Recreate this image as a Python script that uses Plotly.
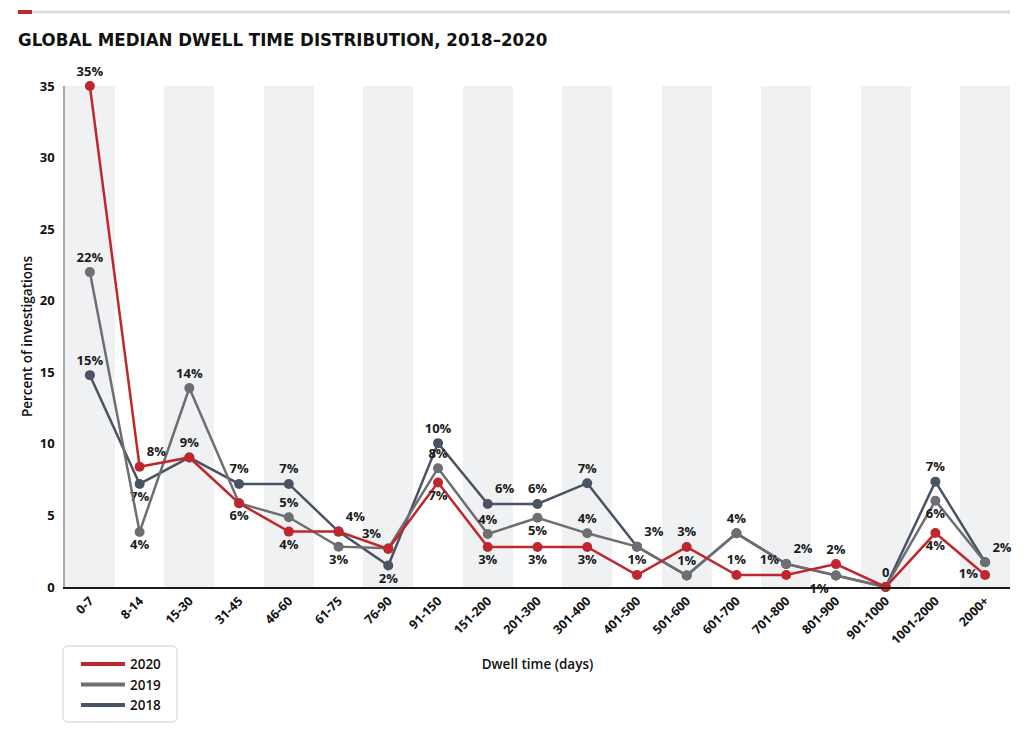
import plotly.graph_objects as go

categories = ["0-7", "8-14", "15-30", "31-45", "46-60", "61-75", "76-90", "91-150",
              "151-200", "201-300", "301-400", "401-500", "501-600", "601-700",
              "701-800", "801-900", "901-1000", "1001-2000", "2000+"]

v2020 = [35, 8.4, 9.05, 5.85, 3.87, 3.87, 2.66, 7.3, 2.8, 2.8, 2.8, 0.84, 2.8, 0.84, 0.84, 1.6, 0, 3.77, 0.84]
v2019 = [22, 3.84, 13.9, 5.85, 4.87, 2.82, 2.7, 8.3, 3.7, 4.84, 3.75, 2.82, 0.8, 3.75, 1.61, 0.8, 0, 6.03, 1.73]
v2018 = [14.8, 7.2, 9.05, 7.2, 7.2, 3.87, 1.5, 10.05, 5.8, 5.8, 7.25, 2.82, 0.8, 3.75, 1.61, 0.8, 0, 7.36, 1.73]

lab2020 = ["35%", "8%", "9%", "6%", "4%", "4%", "3%", "7%", "3%", "3%", "3%", "1%", "3%", "1%", "1%", "2%", "0", "4%", "1%"]
lab2019 = ["22%", "4%", "14%", "", "5%", "3%", "", "8%", "4%", "5%", "4%", "", "1%", "4%", "2%", "1%", "", "6%", "2%"]
lab2018 = ["15%", "7%", "", "7%", "7%", "", "2%", "10%", "6%", "6%", "7%", "3%", "", "", "", "", "", "7%", ""]

pos2020 = ["top center", "top right", "top center", "bottom center", "bottom center", "top right",
           "top left", "bottom center", "bottom center", "bottom center", "bottom center", "top center",
           "top center", "top center", "top left", "top center", "top center", "bottom center", "middle left"]
pos2019 = ["top center", "bottom center", "top center", "top center", "top center", "bottom center",
           "top center", "top center", "top center", "bottom center", "top center", "top center",
           "top center", "top center", "top right", "bottom left", "top center", "bottom center", "top right"]
pos2018 = ["top center", "bottom center", "top center", "top center", "top center", "top center",
           "bottom center", "top center", "top right", "top center", "top center", "top right",
           "top center", "top center", "top center", "top center", "top center", "top center", "top center"]

Y_MAX = 35
band_vals = [Y_MAX if i % 2 == 0 else None for i in range(len(categories))]

RED = "#c0272d"
GRAY19 = "#6d6e72"
DARK18 = "#4a5361"
FONT = "Open Sans"

fig = go.Figure()

fig.add_trace(go.Bar(x=categories, y=band_vals, width=1, marker=dict(color="#f0f1f3", line=dict(width=0)),
                     showlegend=False, hoverinfo="skip"))

lab_font = dict(family=FONT, size=13, color="#1a1a1a", weight=700)

series = [("2018", v2018, lab2018, pos2018, DARK18),
          ("2019", v2019, lab2019, pos2019, GRAY19),
          ("2020", v2020, lab2020, pos2020, RED)]

for name, vals, labs, pos, col in series:
    fig.add_trace(go.Scatter(x=categories, y=vals, name=name, mode="lines+markers+text",
                             line=dict(color=col, width=2.5),
                             marker=dict(color=col, size=10),
                             text=labs, textposition=pos, textfont=lab_font,
                             cliponaxis=False, showlegend=False))

# legend entries (line only, as in the reference legend)
for name, vals, labs, pos, col in series:
    fig.add_trace(go.Scatter(x=[None], y=[None], name=name, mode="lines",
                             line=dict(color=col, width=4), showlegend=True, hoverinfo="skip"))

fig.update_layout(
    width=1016, height=724,
    margin=dict(l=57, r=14, t=78, b=145, autoexpand=False),
    paper_bgcolor="white", plot_bgcolor="white",
    bargap=0,
    title=dict(text="GLOBAL MEDIAN DWELL TIME DISTRIBUTION, 2018–2020",
               x=10 / 1016, xanchor="left", y=1 - 32 / 724, yanchor="middle",
               font=dict(family="DejaVu Sans Condensed", size=18.5, color="#111111", weight=900)),
    legend=dict(x=0.0116, xanchor="left", y=-0.123, yanchor="top", traceorder="reversed",
                bgcolor="rgba(0,0,0,0)", borderwidth=0,
                font=dict(family=FONT, size=13.5, color="#111111", weight=600),
                tracegroupgap=0, itemwidth=44),
    xaxis=dict(type="category", range=[-0.5, 18.5], tickangle=-45, showgrid=False,
               showline=True, linecolor="#1a1a1a", linewidth=1.5, ticks="",
               tickfont=dict(family=FONT, size=12.5, color="#111111", weight=700),
               title=dict(text="Dwell time (days)", standoff=13,
                          font=dict(family=FONT, size=13.5, color="#111111", weight=600))),
    yaxis=dict(range=[0, Y_MAX], dtick=5, showgrid=False, zeroline=False,
               showline=True, linecolor="#a8a8a8", linewidth=1.5, ticks="",
               ticklabelstandoff=6,
               tickfont=dict(family=FONT, size=13, color="#111111", weight=700),
               title=dict(text="Percent of investigations", standoff=4,
                          font=dict(family=FONT, size=13.5, color="#111111", weight=600))),
    shapes=[
        dict(type="line", xref="paper", yref="paper", x0=-47 / 945, x1=1.0,
             y0=(587 - 12) / 501, y1=(587 - 12) / 501, line=dict(color="#dcdcdc", width=3)),
        dict(type="line", xref="paper", yref="paper", x0=-47 / 945, x1=-33 / 945,
             y0=(587 - 12) / 501, y1=(587 - 12) / 501, line=dict(color=RED, width=4)),
        dict(type="path", xref="paper", yref="paper", xsizemode="pixel", ysizemode="pixel",
             xanchor=0, yanchor=0,
             path="M 4,-59 L 106,-59 Q 112,-59 112,-65 L 112,-129 Q 112,-135 106,-135 "
                  "L 4,-135 Q -2,-135 -2,-129 L -2,-65 Q -2,-59 4,-59 Z",
             line=dict(color="#cfcfcf", width=1), fillcolor="rgba(0,0,0,0)"),
    ],
)

fig.write_html("out.html")
